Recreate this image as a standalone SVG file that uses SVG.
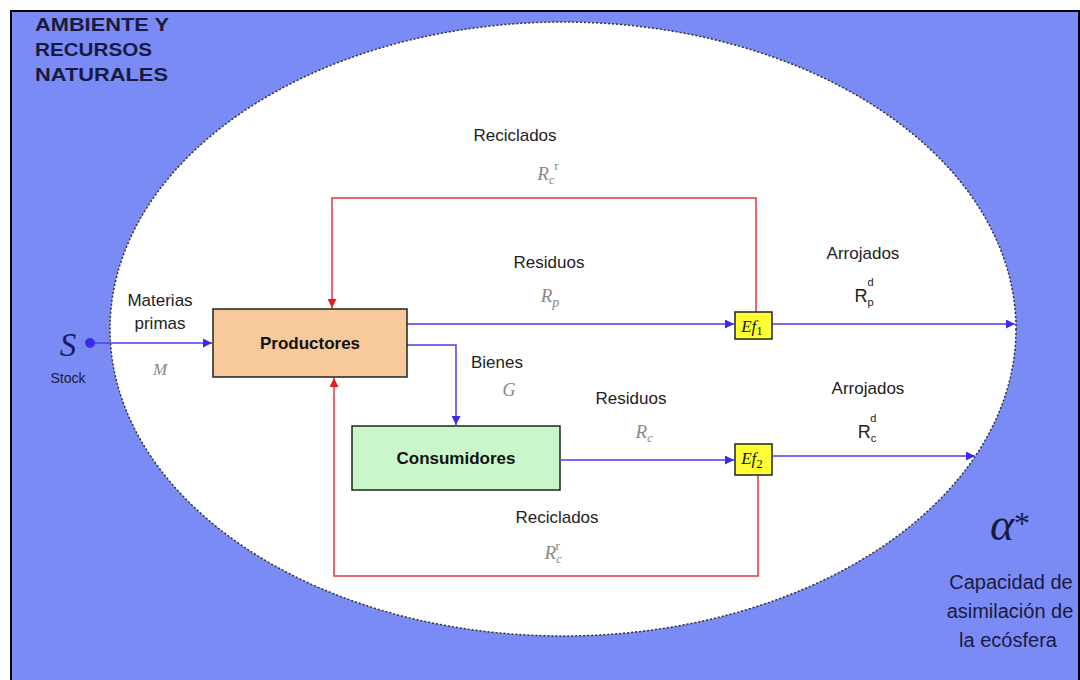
<svg xmlns="http://www.w3.org/2000/svg" width="1080" height="680" viewBox="0 0 1080 680">
<style>
.lbl{font-family:"Liberation Sans",Arial,sans-serif;font-size:17px;fill:#222;text-anchor:middle}
.bg{font-family:"Liberation Sans",Arial,sans-serif;font-size:20px;fill:#1a1a40;text-anchor:middle}
.ttl{font-family:"Liberation Sans",Arial,sans-serif;font-size:19px;font-weight:bold;fill:#1a1a40}
.math{font-family:"Liberation Serif","Times New Roman",serif;font-style:italic;fill:#888;text-anchor:middle}
.node{font-family:"Liberation Sans",Arial,sans-serif;font-size:17px;font-weight:bold;fill:#111;text-anchor:middle}
.blue{stroke:#4a3cf0;stroke-width:1.5;fill:none}
.red{stroke:#e03a3a;stroke-width:1.5;fill:none}
</style>
<defs>
<marker id="ab" viewBox="0 0 10 10" refX="10" refY="5" markerWidth="9" markerHeight="9" markerUnits="userSpaceOnUse" orient="auto"><path d="M0,0 L10,5 L0,10 z" fill="#3a2ce8"/></marker>
<marker id="ar" viewBox="0 0 10 10" refX="10" refY="5" markerWidth="9" markerHeight="9" markerUnits="userSpaceOnUse" orient="auto"><path d="M0,0 L10,5 L0,10 z" fill="#e02020"/></marker>
</defs>
<rect x="0" y="0" width="1080" height="680" fill="#fff"/>
<rect x="11" y="11" width="1068" height="670" fill="#7b8bf5" stroke="#000" stroke-width="2"/>
<ellipse cx="563" cy="329" rx="453" ry="307" fill="#fff" stroke="#333" stroke-width="1.5" stroke-dasharray="2,2"/>
<g id="title">
<text x="35" y="31" class="ttl" textLength="134" lengthAdjust="spacingAndGlyphs">AMBIENTE Y</text>
<text x="35" y="56" class="ttl" textLength="117" lengthAdjust="spacingAndGlyphs">RECURSOS</text>
<text x="35" y="81" class="ttl" textLength="133" lengthAdjust="spacingAndGlyphs">NATURALES</text>
</g>
<g id="connectors">
<line x1="90" y1="343" x2="212" y2="343" class="blue" marker-end="url(#ab)"/>
<polyline points="756,313 756,198 332,198 332,308" class="red" marker-end="url(#ar)"/>
<line x1="407" y1="324" x2="734" y2="324" class="blue" marker-end="url(#ab)"/>
<line x1="772" y1="324" x2="1015" y2="324" class="blue" marker-end="url(#ab)"/>
<polyline points="407,345 456,345 456,425" class="blue" marker-end="url(#ab)"/>
<line x1="561" y1="460" x2="734" y2="460" class="blue" marker-end="url(#ab)"/>
<line x1="773" y1="456" x2="975" y2="456" class="blue" marker-end="url(#ab)"/>
<polyline points="758,475 758,576 334,576 334,378" class="red" marker-end="url(#ar)"/>
</g>
<g id="stock">
<circle cx="90" cy="343" r="5" fill="#3a2ce8"/>
<text x="68" y="356" font-family="Liberation Serif,serif" font-style="italic" font-size="33" fill="#1a1a60" text-anchor="middle">S</text>
<text x="68" y="383" font-family="Liberation Sans,Arial,sans-serif" font-size="14" fill="#1a1a40" text-anchor="middle">Stock</text>
</g>
<g id="productores">
<rect x="213" y="309" width="194" height="68" fill="#f8c99b" stroke="#222" stroke-width="1.5"/>
<text x="310" y="349" class="node">Productores</text>
</g>
<g id="consumidores">
<rect x="352" y="426" width="208" height="64" fill="#c9f7c9" stroke="#222" stroke-width="1.5"/>
<text x="456" y="464" class="node">Consumidores</text>
</g>
<g id="ef1">
<rect x="735" y="312" width="37" height="27" fill="#ffff33" stroke="#222" stroke-width="1.5"/>
<text x="752" y="332" font-family="Liberation Serif,serif" font-style="italic" font-size="17" fill="#111" text-anchor="middle">Ef<tspan font-style="normal" font-size="13" dy="3">1</tspan></text>
</g>
<g id="ef2">
<rect x="735" y="444" width="37" height="31" fill="#ffff33" stroke="#222" stroke-width="1.5"/>
<text x="752" y="464" font-family="Liberation Serif,serif" font-style="italic" font-size="17" fill="#111" text-anchor="middle">Ef<tspan font-style="normal" font-size="13" dy="4">2</tspan></text>
</g>
<g id="labels">
<text x="160" y="306" class="lbl">Materias</text>
<text x="160" y="329" class="lbl">primas</text>
<text x="160" y="375" class="math" font-size="17">M</text>
<text x="515" y="141" class="lbl">Reciclados</text>
<text x="548" y="180" class="math" font-size="19">R<tspan font-size="12" dy="4">c</tspan><tspan font-style="normal" font-size="13" dy="-14">r</tspan></text>
<text x="549" y="268" class="lbl">Residuos</text>
<text x="550" y="302" class="math" font-size="19">R<tspan font-size="14" dy="5">p</tspan></text>
<text x="863" y="259" class="lbl">Arrojados</text>
<text x="864" y="302" font-family="Liberation Sans,Arial,sans-serif" font-size="18" fill="#222" text-anchor="middle">R<tspan font-size="11" dy="4">p</tspan><tspan font-size="11" dx="-6" dy="-20">d</tspan></text>
<text x="497" y="368" class="lbl">Bienes</text>
<text x="509" y="396" class="math" font-size="18">G</text>
<text x="631" y="404" class="lbl">Residuos</text>
<text x="644" y="438" class="math" font-size="19">R<tspan font-size="12" dy="4">c</tspan></text>
<text x="868" y="394" class="lbl">Arrojados</text>
<text x="867" y="438" font-family="Liberation Sans,Arial,sans-serif" font-size="18" fill="#222" text-anchor="middle">R<tspan font-size="11" dy="4">c</tspan><tspan font-size="11" dx="-6" dy="-20">d</tspan></text>
<text x="557" y="523" class="lbl">Reciclados</text>
<text x="553" y="559" class="math" font-size="19">R<tspan font-size="12" dy="4">c</tspan><tspan font-style="normal" font-size="13" dx="-6" dy="-13">r</tspan></text>
</g>
<g id="capacidad">
<text x="1010" y="540" font-family="Liberation Serif,serif" font-style="italic" font-size="46" fill="#1a1a40" text-anchor="middle">α<tspan font-style="normal" font-size="32" dy="-6">*</tspan></text>
<text x="1011" y="589" class="bg">Capacidad de</text>
<text x="1010" y="618" class="bg">asimilación  de</text>
<text x="1008" y="647" class="bg">la ecósfera</text>
</g>
</svg>
